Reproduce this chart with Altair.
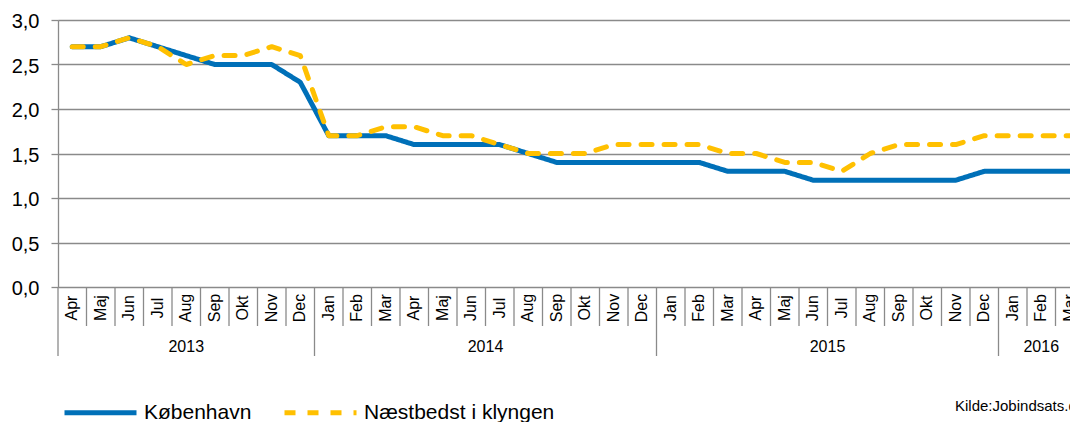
import altair as alt
import pandas as pd

# ---- data ----
months = ["Apr", "Maj", "Jun", "Jul", "Aug", "Sep", "Okt", "Nov", "Dec",
          "Jan", "Feb", "Mar", "Apr", "Maj", "Jun", "Jul", "Aug", "Sep", "Okt", "Nov", "Dec",
          "Jan", "Feb", "Mar", "Apr", "Maj", "Jun", "Jul", "Aug", "Sep", "Okt", "Nov", "Dec",
          "Jan", "Feb", "Mar"]
years = ["2013", "2014", "2015", "2016"]
year_months = [9, 12, 12, 3]

kobenhavn = [2.7, 2.7, 2.8, 2.7, 2.6, 2.5, 2.5, 2.5, 2.3,
             1.7, 1.7, 1.7, 1.6, 1.6, 1.6, 1.6, 1.5, 1.4, 1.4, 1.4, 1.4,
             1.4, 1.4, 1.3, 1.3, 1.3, 1.2, 1.2, 1.2, 1.2, 1.2, 1.2, 1.3,
             1.3, 1.3, 1.3]
naestbedst = [2.7, 2.7, 2.8, 2.7, 2.5, 2.6, 2.6, 2.7, 2.6,
              1.7, 1.7, 1.8, 1.8, 1.7, 1.7, 1.6, 1.5, 1.5, 1.5, 1.6, 1.6,
              1.6, 1.6, 1.5, 1.5, 1.4, 1.4, 1.3, 1.5, 1.6, 1.6, 1.6, 1.7,
              1.7, 1.7, 1.7]
series_names = ["København", "Næstbedst i klyngen"]
y_ticks = [0, 0.5, 1.0, 1.5, 2.0, 2.5, 3.0]
source_text = ["Kilde:Jobindsats.dk"]

# ---- styling ----
FONT = "Liberation Sans"
BLUE = "#0070B8"
YELLOW = "#FFC000"
GRAY = "#8a8a8a"

# ---- tables ----
n = len(months)
line_rows = []
for name, vals in zip(series_names, [kobenhavn, naestbedst]):
    for i, v in enumerate(vals):
        line_rows.append({"pos": i + 0.5, "value": v, "series": name})
lines_df = pd.DataFrame(line_rows)

month_df = pd.DataFrame({"pos": [i + 0.5 for i in range(n)], "month": months})

starts = []
s = 0
for k in year_months:
    starts.append(s)
    s += k
year_df = pd.DataFrame({"pos": [st + k / 2 for st, k in zip(starts, year_months)], "year": years})
year_sep_df = pd.DataFrame({"pos": starts})
month_sep_df = pd.DataFrame({"pos": [i for i in range(1, n) if i not in starts]})
source_df = pd.DataFrame({"text": source_text})

xs = alt.Scale(domain=[0, n], range=[0, 1026])
ys = alt.Scale(domain=[0, 3], nice=False)

legend_props = dict(title=None, orient="none", legendX=4, legendY=354,
                    direction="horizontal", symbolType="stroke",
                    symbolSize=5184, symbolStrokeWidth=5,
                    labelFont=FONT, labelFontSize=21, labelColor="#000",
                    labelOffset=5, labelLimit=400, columnPadding=22, padding=0)

lines = alt.Chart(lines_df).mark_line(
    strokeWidth=5, strokeCap="round", strokeJoin="round"
).encode(
    x=alt.X("pos:Q", scale=xs, axis=None),
    y=alt.Y("value:Q", scale=ys, axis=alt.Axis(
        values=y_ticks, title=None,
        labelExpr="replace(format(datum.value, '.1f'), '.', ',')",
        labelFont=FONT, labelFontSize=20, labelColor="#000", labelPadding=12,
        labelOffset=1.5,
        tickSize=7, tickColor=GRAY, tickWidth=1.3,
        domainColor=GRAY, domainWidth=1.3,
        grid=True, gridColor=GRAY, gridWidth=1.3,
    )),
    color=alt.Color("series:N", scale=alt.Scale(domain=series_names, range=[BLUE, YELLOW]),
                    legend=alt.Legend(**legend_props)),
    strokeDash=alt.StrokeDash("series:N",
                              scale=alt.Scale(domain=series_names, range=[[1, 0], [11, 12]]),
                              legend=alt.Legend(**legend_props)),
)

month_seps = alt.Chart(month_sep_df).mark_rule(color=GRAY, strokeWidth=1.3).encode(
    x=alt.X("pos:Q", scale=xs, axis=None),
    y=alt.value(267), y2=alt.value(306),
)
year_seps = alt.Chart(year_sep_df).mark_rule(color=GRAY, strokeWidth=1.3).encode(
    x=alt.X("pos:Q", scale=xs, axis=None),
    y=alt.value(267), y2=alt.value(336),
)
month_text = alt.Chart(month_df).mark_text(
    angle=270, align="center", baseline="middle", font=FONT, fontSize=16, color="#000"
).encode(
    x=alt.X("pos:Q", scale=xs, axis=None),
    y=alt.value(288),
    text="month:N",
)
year_text = alt.Chart(year_df).mark_text(
    align="center", baseline="middle", font=FONT, fontSize=16, color="#000"
).encode(
    x=alt.X("pos:Q", scale=xs, axis=None),
    y=alt.value(327),
    text="year:N",
)
source = alt.Chart(source_df).mark_text(
    align="left", baseline="alphabetic", font=FONT, fontSize=15, color="#000"
).encode(
    x=alt.value(897),
    y=alt.value(391),
    text="text:N",
)

chart = alt.layer(month_seps, year_seps, month_text, year_text, lines, source).properties(
    width=1012, height=267,
    autosize="none",
    padding={"left": 50, "top": 12, "right": 0, "bottom": 135},
).configure_view(stroke=None).configure(background="white")

chart.save("out.html", embed_options={"renderer": "svg", "actions": False})
